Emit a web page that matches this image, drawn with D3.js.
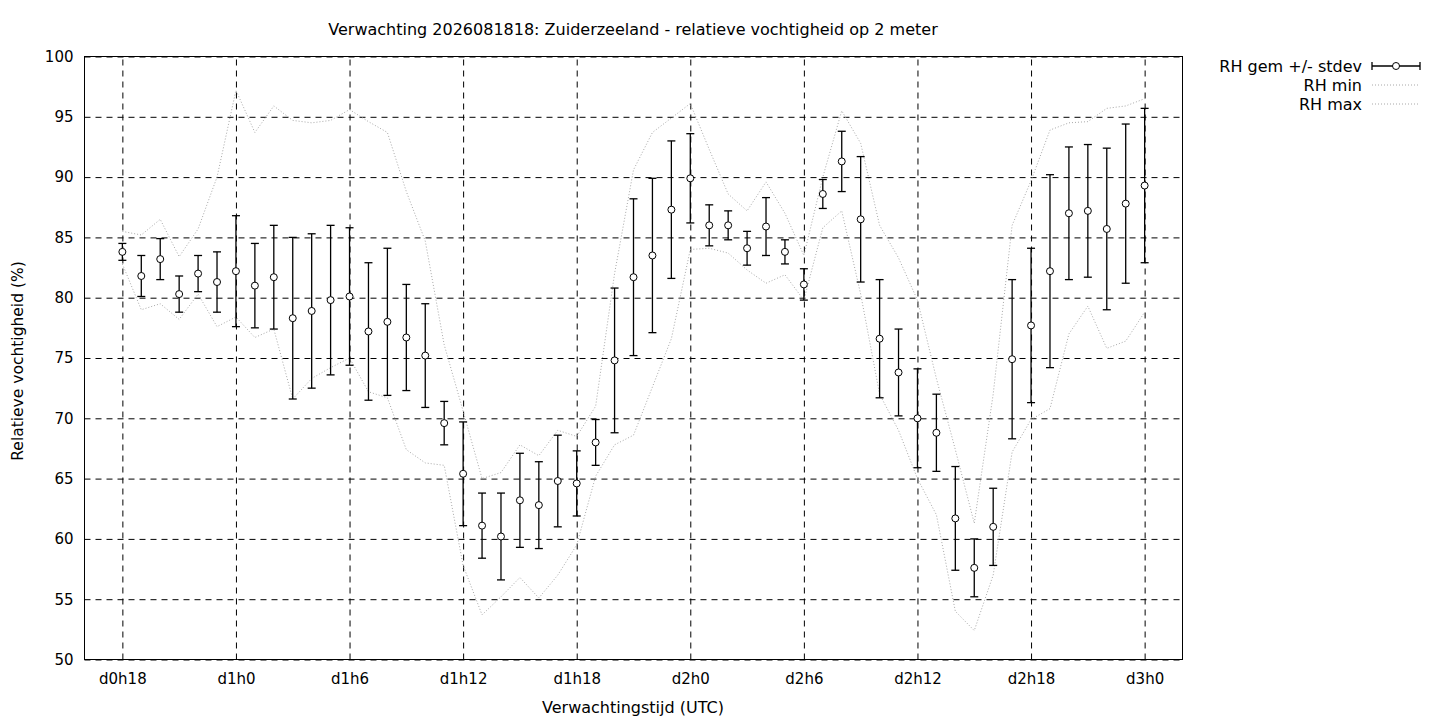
<!DOCTYPE html>
<html>
<head>
    <meta charset="utf-8" />
    <title>Verwachting RH Zuiderzeeland</title>
    <script src="https://d3js.org/d3.v7.min.js"></script>
    <style>
      body { margin: 0; background: #fff; }
      text { font-family: 'DejaVu Sans', sans-serif; font-size: 16px; fill: #000; }
      .tick text { font-size: 15px; }
    </style>
</head>
<body>
<svg id="chart" width="1440" height="720"></svg>
<script>
// forecast hours (from run time) and values per hour
var hours = [18,19,20,21,22,23,24,25,26,27,28,29,30,31,32,33,34,35,36,37,
             38,39,40,41,42,43,44,45,46,47,48,49,50,51,52,53,54,55,56,57,
             58,59,60,61,62,63,64,65,66,67,68,69,70,71,72];

var rhMean = [83.8,81.8,83.2,80.3,82.0,81.3,82.2,81.0,81.7,78.3,
              78.9,79.8,80.1,77.2,78.0,76.7,75.2,69.6,65.4,61.1,
              60.2,63.2,62.8,64.8,64.6,68.0,74.8,81.7,83.5,87.3,
              89.9,86.0,86.0,84.1,85.9,83.8,81.1,88.6,91.3,86.5,
              76.6,73.8,70.0,68.8,61.7,57.6,61.0,74.9,77.7,82.2,
              87.0,87.2,85.7,87.8,89.3];

var rhStdev = [0.7,1.7,1.7,1.5,1.5,2.5,4.6,3.5,4.3,6.7,
               6.4,6.2,5.7,5.7,6.1,4.4,4.3,1.8,4.3,2.7,
               3.6,3.9,3.6,3.8,2.7,1.9,6.0,6.5,6.4,5.7,
               3.7,1.7,1.2,1.4,2.4,1.0,1.3,1.2,2.5,5.2,
               4.9,3.6,4.1,3.2,4.3,2.4,3.2,6.6,6.4,8.0,
               5.5,5.5,6.7,6.6,6.4];

var rhMin = [82.8,79.0,79.5,78.2,80.3,77.6,78.4,76.7,77.4,71.6,
             73.3,74.2,75.0,72.2,71.7,67.4,66.3,66.1,57.8,53.7,
             55.2,56.8,55.1,57.0,59.5,65.2,67.8,68.6,72.6,76.6,
             84.0,84.1,83.7,82.3,81.2,81.9,79.8,85.8,87.2,80.3,
             72.0,69.0,65.0,62.0,54.0,52.4,57.0,67.2,69.9,70.8,
             77.0,79.3,75.8,76.4,78.8];

var rhMax = [85.5,85.2,86.5,83.4,85.7,90.0,97.2,93.7,95.9,94.7,
             94.5,94.7,95.6,94.6,93.7,88.8,84.7,76.1,70.6,65.0,
             65.5,67.8,66.9,69.0,68.5,71.0,82.0,90.6,93.7,94.9,
             96.1,92.3,88.6,87.2,89.6,87.0,83.5,90.0,95.5,92.8,
             86.0,83.3,79.8,73.3,67.4,61.3,72.0,86.0,89.7,93.9,
             94.5,94.6,95.7,95.9,96.5];

var xTicks = [18,24,30,36,42,48,54,60,66,72];
var yTicks = [50,55,60,65,70,75,80,85,90,95,100];

var plotLeft = 84.5, plotRight = 1182.5, plotTop = 56.5, plotBottom = 659.5;

var svg = d3.select("#chart");

var x = d3.scaleLinear().domain([16, 74]).range([plotLeft, plotRight]);
var y = d3.scaleLinear().domain([50, 100]).range([plotBottom, plotTop]);

function hourLabel(h) {
    return "d" + Math.floor(h / 24) + "h" + (h % 24);
}

//grid + tick labels
var yAxis = svg.append("g")
    .attr("transform", "translate(" + plotLeft + ",0)")
    .call(d3.axisLeft(y).tickValues(yTicks).tickSize(-(plotRight - plotLeft)).tickPadding(11));

var xAxis = svg.append("g")
    .attr("transform", "translate(0," + plotBottom + ")")
    .call(d3.axisBottom(x).tickValues(xTicks).tickFormat(hourLabel)
        .tickSize(-(plotBottom - plotTop)).tickPadding(14));

[xAxis, yAxis].forEach(function(g) {
    g.attr("font-family", null).attr("font-size", null);
    g.select(".domain").remove();
    g.selectAll(".tick line")
        .attr("stroke", "#000")
        .attr("stroke-width", 1)
        .attr("stroke-dasharray", "6,5");
});

//border
svg.append("rect")
    .attr("x", plotLeft).attr("y", plotTop)
    .attr("width", plotRight - plotLeft).attr("height", plotBottom - plotTop)
    .attr("fill", "none").attr("stroke", "#000").attr("stroke-width", 1);

//data rows
var rows = hours.map(function(h, i) {
    return { h: h, mean: rhMean[i], sd: rhStdev[i], min: rhMin[i], max: rhMax[i] };
});

//min / max lines
function dotted(key) {
    svg.append("path")
        .datum(rows)
        .attr("fill", "none")
        .attr("stroke", "#a8a8a8")
        .attr("stroke-width", 1)
        .attr("stroke-dasharray", "1,2")
        .attr("d", d3.line()
            .x(function(d) { return x(d.h); })
            .y(function(d) { return y(d[key]); }));
}
dotted("min");
dotted("max");

//error bars
var bars = svg.append("g").attr("class", "errorbars");

bars.selectAll("line.stem")
    .data(rows)
    .enter().append("line")
    .attr("class", "stem")
    .attr("x1", function(d) { return x(d.h); })
    .attr("x2", function(d) { return x(d.h); })
    .attr("y1", function(d) { return y(d.mean - d.sd); })
    .attr("y2", function(d) { return y(d.mean + d.sd); })
    .attr("stroke", "#000").attr("stroke-width", 1.3);

["lo", "hi"].forEach(function(side) {
    bars.selectAll("line.cap-" + side)
        .data(rows)
        .enter().append("line")
        .attr("class", "cap-" + side)
        .attr("x1", function(d) { return x(d.h) - 4; })
        .attr("x2", function(d) { return x(d.h) + 4; })
        .attr("y1", function(d) { return y(side == "lo" ? d.mean - d.sd : d.mean + d.sd); })
        .attr("y2", function(d) { return y(side == "lo" ? d.mean - d.sd : d.mean + d.sd); })
        .attr("stroke", "#000").attr("stroke-width", 1.3);
});

bars.selectAll("circle")
    .data(rows)
    .enter().append("circle")
    .attr("cx", function(d) { return x(d.h); })
    .attr("cy", function(d) { return y(d.mean); })
    .attr("r", 3.5)
    .attr("fill", "#fff").attr("stroke", "#000").attr("stroke-width", 1);

//titles
svg.append("text")
    .attr("x", 633).attr("y", 29).attr("dy", "0.35em")
    .attr("text-anchor", "middle")
    .text("Verwachting 2026081818: Zuiderzeeland - relatieve vochtigheid op 2 meter");

svg.append("text")
    .attr("x", 633).attr("y", 707).attr("dy", "0.35em")
    .attr("text-anchor", "middle")
    .text("Verwachtingstijd (UTC)");

svg.append("text")
    .attr("transform", "translate(18,361) rotate(-90)")
    .attr("dy", "0.35em")
    .attr("text-anchor", "middle")
    .style("font-size", "15.5px")
    .text("Relatieve vochtigheid (%)");

//legend
var legend = svg.append("g").attr("class", "legend");
var legendItems = ["RH gem +/- stdev", "RH min", "RH max"];

legend.selectAll("text")
    .data(legendItems)
    .enter().append("text")
    .attr("x", 1362)
    .attr("y", function(d, i) { return 66 + i * 19; })
    .attr("dy", "0.35em")
    .attr("text-anchor", "end")
    .text(function(d) { return d; });

legend.append("line")
    .attr("x1", 1372).attr("x2", 1420).attr("y1", 66).attr("y2", 66)
    .attr("stroke", "#000").attr("stroke-width", 1.3);
[1372, 1420].forEach(function(cx) {
    legend.append("line")
        .attr("x1", cx).attr("x2", cx).attr("y1", 62).attr("y2", 70)
        .attr("stroke", "#000").attr("stroke-width", 1.3);
});
legend.append("circle")
    .attr("cx", 1396).attr("cy", 66).attr("r", 3.5)
    .attr("fill", "#fff").attr("stroke", "#000");

[85, 104].forEach(function(ly) {
    legend.append("line")
        .attr("x1", 1372).attr("x2", 1420).attr("y1", ly).attr("y2", ly)
        .attr("stroke", "#a8a8a8").attr("stroke-width", 1)
        .attr("stroke-dasharray", "1,2");
});
</script>
</body>
</html>
